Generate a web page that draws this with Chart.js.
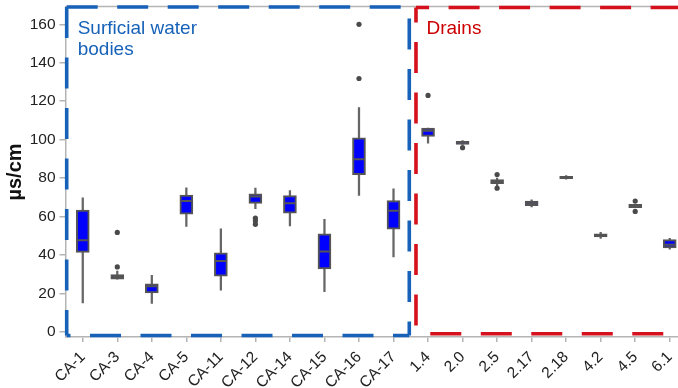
<!DOCTYPE html>
<html>
<head>
<meta charset="utf-8">
<script src="https://cdn.jsdelivr.net/npm/chart.js@4/dist/chart.umd.min.js"></script>
<style>
  html, body { margin: 0; padding: 0; background: #fff; overflow: hidden; }
  #wrap { width: 694px; height: 388px; }
</style>
</head>
<body>
<div id="wrap"><canvas id="boxChart"></canvas></div>
<script>
// Dados
const categories = ['CA-1', 'CA-3', 'CA-4', 'CA-5', 'CA-11', 'CA-12', 'CA-14', 'CA-15', 'CA-16', 'CA-17',
                    '1.4', '2.0', '2.5', '2.17', '2.18', '4.2', '4.5', '6.1'];
const whiskerLow  = [15, 27.3, 14.7, 54.8, 21.6, 64, 55, 20.8, 71, 38.9, 98.1, 97.5, 76, 64.9, 79.4, 48.6, 64.5, 42.9];
const q1          = [41.3, 27.3, 20.2, 61.2, 28.9, 66.8, 61.7, 32.7, 81.8, 53.4, 101.7, 97.5, 77.1, 65.6, 79.6, 49.3, 64.5, 43.6];
const medians     = [47.6, 28.5, 23.6, 68, 36.8, 70.4, 66.8, 41.7, 89.8, 63, 104.6, 98.3, 78.3, 66.8, 80.3, 50.2, 65.4, 45.3];
const q3          = [63.3, 29.8, 24.9, 71.1, 41, 71.8, 70.9, 51, 100.9, 68.3, 106, 99.1, 79.2, 68, 80.9, 51, 66.3, 47.9];
const whiskerHigh = [69.7, 31.6, 29.4, 74.9, 53.6, 74.7, 73.5, 58.5, 116.7, 74.4, 106, 99.5, 80, 68.7, 81.3, 51.7, 66.3, 48.6];
const outliers    = [[], [51.7, 33.7], [], [], [], [59.1, 57.6, 55.9], [], [], [160, 131.8], [],
                     [123], [95.8], [81.8, 74.7], [], [], [], [68, 62.6], []];
const yTicks = [0, 20, 40, 60, 80, 100, 120, 140, 160];
const lastSurficial = 9; // índice de CA-17

const axisGray = '#b4b4b4';
const boxGray = '#555';
const blueFrame = '#1762b8';
const redFrame = '#d4111c';
const font = '"Liberation Sans", Arial, sans-serif';

const outlierPoints = [];
outliers.forEach((vals, i) => vals.forEach(v => outlierPoints.push({ x: categories[i], y: v })));

// Molduras tracejadas e rótulos dos grupos
const groupFrames = {
    id: 'groupFrames',
    afterDraw(chart) {
        const { ctx, chartArea: a, scales: { x } } = chart;
        const split = (x.getPixelForValue(lastSurficial) + x.getPixelForValue(lastSurficial + 1)) / 2;

        ctx.save();
        // linha superior cinza
        ctx.strokeStyle = axisGray;
        ctx.lineWidth = 1.5;
        ctx.beginPath();
        ctx.moveTo(a.left, a.top - 0.5);
        ctx.lineTo(a.right, a.top - 0.5);
        ctx.stroke();

        const seg = (x1, y1, x2, y2, offset) => {
            ctx.lineDashOffset = offset;
            ctx.beginPath();
            ctx.moveTo(x1, y1);
            ctx.lineTo(x2, y2);
            ctx.stroke();
        };
        ctx.lineWidth = 3.6;
        ctx.lineCap = 'butt';
        ctx.setLineDash([31, 19.5]);

        // azul
        let L = a.left + 1.2, T = a.top, R = split - 1.5, B = a.bottom - 1.5;
        ctx.strokeStyle = blueFrame;
        seg(L, T, R, T, 0);
        seg(L, T, L, B, 0);
        seg(R, T, R, B, 38.9);
        seg(L, B, R, B, 27.2);

        ctx.font = '19px ' + font;
        ctx.fillStyle = blueFrame;
        ctx.fillText('Surficial water', L + 11, a.top + 27);
        ctx.fillText('bodies', L + 11, a.top + 48);

        // vermelho
        L = split + 5.2; T = a.top + 0.5; R = a.right; B = a.bottom - 3.3;
        ctx.strokeStyle = redFrame;
        seg(L, T, R, T, 17.9);
        seg(L, T, L, B, 16);
        seg(L, B, R, B, 36.2);

        ctx.fillStyle = '#cc0000';
        ctx.fillText('Drains', L + 10.5, a.top + 27);
        ctx.restore();
    }
};

const ctx = document.getElementById('boxChart').getContext('2d');
new Chart(ctx, {
    type: 'bar',
    data: {
        labels: categories,
        datasets: [
            {
                type: 'line',
                label: 'Outliers',
                data: outlierPoints,
                showLine: false,
                pointRadius: 2.6,
                pointBackgroundColor: '#4a4a4a',
                pointBorderWidth: 0,
                order: 1
            },
            {
                type: 'line',
                label: 'Mediana',
                data: medians,
                showLine: false,
                pointStyle: 'line',
                pointRadius: 5,
                pointBorderColor: boxGray,
                pointBorderWidth: 2,
                order: 2
            },
            {
                label: 'Caixa',
                data: categories.map((c, i) => [q1[i], q3[i]]),
                backgroundColor: '#0000ff',
                borderColor: boxGray,
                borderWidth: 2,
                borderSkipped: false,
                barThickness: 13,
                grouped: false,
                order: 3
            },
            {
                label: 'Bigodes',
                data: categories.map((c, i) => [whiskerLow[i], whiskerHigh[i]]),
                backgroundColor: '#666',
                borderWidth: 0,
                barThickness: 1.6,
                grouped: false,
                order: 4
            }
        ]
    },
    options: {
        responsive: true,
        maintainAspectRatio: false,
        animation: false,
        events: [],
        layout: { padding: { top: 6, right: 0, left: 0, bottom: 0 } },
        plugins: {
            legend: { display: false },
            tooltip: { enabled: false }
        },
        scales: {
            x: {
                grid: { drawOnChartArea: false, offset: false, tickLength: 5, color: axisGray, lineWidth: 1.5 },
                border: { color: axisGray, width: 1.5 },
                ticks: {
                    maxRotation: 45, minRotation: 45, autoSkip: false,
                    color: '#222', font: { family: font, size: 15.5 }, padding: 6
                },
                afterFit: axis => {
                    axis.height = 51;
                    axis.paddingLeft = 0;
                    axis.paddingRight = 0;
                }
            },
            y: {
                min: -2.75,
                max: 169,
                afterBuildTicks: axis => { axis.ticks = yTicks.map(v => ({ value: v })); },
                grid: { drawOnChartArea: false, tickLength: 6, color: axisGray, lineWidth: 1.5 },
                border: { color: axisGray, width: 1.5 },
                ticks: { color: '#222', font: { family: font, size: 15.5 }, padding: 4 },
                title: {
                    display: true, text: 'µs/cm', color: '#111',
                    font: { family: font, size: 20, weight: 'bold' }, padding: { top: 3, bottom: 0 }
                },
                afterFit: axis => {
                    axis.width = 65.5;
                    axis.paddingTop = 0;
                    axis.paddingBottom = 0;
                }
            }
        }
    },
    plugins: [groupFrames]
});
</script>
</body>
</html>
